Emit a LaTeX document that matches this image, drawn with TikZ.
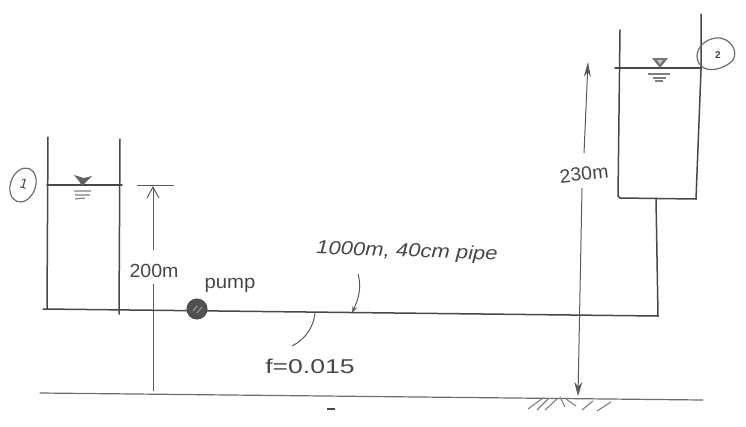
\documentclass[tikz,border=0pt]{standalone}
\usepackage{fontspec}
\setmainfont{Liberation Sans}
\usetikzlibrary{arrows.meta}
\definecolor{ink}{gray}{0.28}
\tikzset{
 pen/.style={draw=ink,line width=1.5pt,line cap=round},
 thin pen/.style={draw=ink!80,line width=1.2pt,line cap=round},
 dim/.style={draw=ink!90,line width=1pt},
 hand/.style={text=ink,inner sep=0pt,font=\fontsize{19}{19}\selectfont\itshape},
 upright hand/.style={text=ink,inner sep=0pt,font=\fontsize{19}{19}\selectfont},
 tip/.style={-{Stealth[length=14pt,width=8pt]}},
 wave/.style={draw=ink!70,line width=1.1pt},
}
\begin{document}
\begin{tikzpicture}[x=1pt,y=-1pt]
\useasboundingbox (0,0) rectangle (746,426);
% left tank
\draw[pen] (48,137) -- (47,309);
\draw[pen] (120,139) -- (119,314);
\draw[pen] (47,185) -- (122,185);
\fill[ink!85] (74,175) -- (84,178) -- (92,176) -- (82,186) -- (79,181) -- cycle;
\draw[wave] (74,191) -- (91,191) (75,195) -- (90,195) (75,199) -- (85,198);
\draw[thin pen,rotate around={-20:(23,185)}] (23,185) ellipse (12.5 and 17.5);
\node[upright hand,rotate=-15,font=\fontsize{14}{14}\selectfont] (one) at (24,184) {1};
% dimension 200m
\draw[dim] (137,185) -- (174,185);
\node[upright hand,xscale=1.03] (h200) at (154,271) {200m};
\coordinate (a1) at (153,186);
\coordinate (g1) at (153,391);
\draw[dim,-{Straight Barb[length=11pt,width=12pt]}] (153,250) -- (a1);
\draw[dim] (153,284) -- (g1);
% pipe
\coordinate (p0) at (43,309);
\coordinate (p1) at (658,316);
\coordinate (p2) at (656,199);
\draw[pen] (p0) -- (p1) -- (p2);
% pump
\node[circle,fill=ink!95,draw=ink,line width=1pt,minimum size=20pt,inner sep=0pt] (pmp) at (197,309) {};
\draw[white!55!ink,line width=.8pt] (193,311) -- (197,306) (197,313) -- (202,307);
\node[upright hand,xscale=1.07] (pumpl) at (230,285) {pump};
% right tank
\draw[pen] (620,30) -- (618,196) -- (620,198) -- (696,199) -- (701,70) -- (701,14);
\draw[pen] (615,68) -- (701,68);
\fill[ink!75] (652,58) -- (668,58) -- (660,68) -- cycle;
\fill[white!70!ink] (657,60) -- (663,60) -- (660,64) -- cycle;
\draw[wave] (648,74) -- (670,74) (653,78) -- (666,78) (655,81) -- (663,81);
\draw[thin pen] (697,56) .. controls (697,46) and (708,37) .. (720,38) .. controls (732,40) and (738,52) .. (733,60) .. controls (726,68) and (712,72) .. (704,68) .. controls (699,65) and (697,61) .. (697,56);
\node[upright hand,font=\fontsize{10}{10}\selectfont\bfseries] (two) at (718,55) {2};
% dimension 230m
\node[upright hand,rotate=6,xscale=1.03] (h230) at (584,174) {230m};
\coordinate (a2) at (588,62);
\coordinate (g2) at (578,396);
\draw[dim,-{Stealth[length=15pt,width=7pt]}] (584,153) -- (a2);
\draw[dim,tip] (582,188) -- (g2);
% ground
\draw[thin pen] (40,393) -- (703,400);
\draw[wave] (528,409) -- (543,398) (537,410) -- (549,398) (545,410) -- (557,399) (566,399) -- (576,406) (560,397) -- (565,407) (582,410) -- (593,401) (597,411) -- (611,402);
\draw[draw=ink,line width=1.1pt] (327,409) -- (335,409);
% labels
\node[hand,rotate=-2,xscale=1.16] (lpipe) at (407,252) {1000m, 40cm pipe};
\node[upright hand,font=\fontsize{20}{20}\selectfont,xscale=1.33] (lf) at (310,366) {f=0.015};
\coordinate (t1) at (352,313);
\coordinate (t2) at (315,312);
\draw[dim,-{Stealth[length=7pt,width=5pt]}] (358,274) .. controls (362,288) and (358,300) .. (t1);
\draw[dim] (t2) .. controls (314,328) and (304,340) .. (292,346);
\end{tikzpicture}
\end{document}
